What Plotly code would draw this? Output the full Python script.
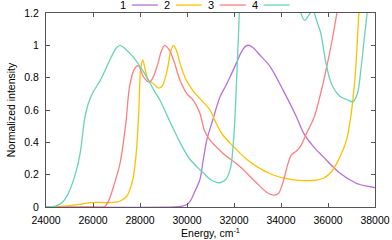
import plotly.graph_objects as go

# ---- data ----
e1 = [24000, 29500, 29800, 30000, 30150, 30300, 30550, 30700, 30850, 31100, 31400, 31650, 31850, 32100, 32300, 32500, 32650, 32850, 33100, 33530, 34100, 34650, 34950, 35400, 35800, 36500, 37200, 37600, 38000]
i1 = [0.0, 0.0, 0.005, 0.015, 0.04, 0.085, 0.17, 0.30, 0.42, 0.54, 0.68, 0.75, 0.81, 0.89, 0.955, 0.995, 1.0, 0.98, 0.94, 0.87, 0.72, 0.56, 0.46, 0.37, 0.31, 0.21, 0.147, 0.13, 0.12]

e2 = [24000, 24500, 25000, 25500, 25900, 26300, 26700, 27000, 27200, 27430, 27600, 27720, 27850, 27950, 28020, 28120, 28220, 28350, 28550, 28800, 28950, 29150, 29300, 29420, 29550, 29700, 29950, 30250, 30550, 30980, 31200, 31500, 31970, 32500, 32970, 33670, 34380, 35090, 35500, 35800, 36100, 36370, 36600, 36800, 36950, 37100, 37200, 37300, 37400]
i2 = [0.0, 0.003, 0.008, 0.018, 0.027, 0.028, 0.027, 0.03, 0.04, 0.065, 0.12, 0.19, 0.35, 0.6, 0.84, 0.91, 0.85, 0.785, 0.765, 0.735, 0.75, 0.84, 0.96, 1.0, 0.97, 0.89, 0.79, 0.72, 0.67, 0.60, 0.53, 0.45, 0.375, 0.30, 0.25, 0.198, 0.171, 0.163, 0.166, 0.178, 0.21, 0.27, 0.34, 0.42, 0.54, 0.72, 0.90, 1.17, 1.4]

e3 = [24000, 26000, 26500, 26700, 26870, 27150, 27400, 27550, 27750, 27930, 28150, 28400, 28550, 28750, 28900, 29050, 29250, 29450, 29700, 30000, 30270, 30550, 30750, 31000, 31550, 32250, 32950, 33400, 33700, 33900, 34100, 34300, 34450, 34650, 34850, 35100, 35400, 35700, 35950, 36200, 36400, 36600]
i3 = [0.0, 0.0, 0.003, 0.05, 0.125, 0.27, 0.52, 0.74, 0.85, 0.875, 0.805, 0.772, 0.80, 0.88, 0.96, 1.0, 0.97, 0.90, 0.785, 0.70, 0.66, 0.58, 0.47, 0.41, 0.33, 0.25, 0.15, 0.09, 0.073, 0.085, 0.16, 0.27, 0.325, 0.345, 0.38, 0.46, 0.55, 0.71, 0.87, 1.05, 1.22, 1.4]

e4 = [24000, 24400, 24700, 24900, 25200, 25450, 25650, 25800, 26000, 26300, 26500, 26750, 27000, 27150, 27400, 27700, 28000, 28300, 28600, 28850, 29300, 29700, 30100, 30550, 30700, 31000, 31400, 31650, 31850, 32000, 32100, 32200, 32300, 32500, 33000, 34000, 34500, 34800, 35000, 35200, 35350, 35500, 35700, 35900, 36100, 36300, 36550, 36800, 37050, 37250, 37400, 37550, 37700, 37900, 38000]
i4 = [0.0, 0.005, 0.03, 0.07, 0.18, 0.33, 0.55, 0.64, 0.71, 0.78, 0.84, 0.92, 0.985, 1.0, 0.975, 0.93, 0.87, 0.80, 0.72, 0.66, 0.52, 0.40, 0.30, 0.23, 0.21, 0.17, 0.15, 0.17, 0.24, 0.45, 0.75, 1.1, 1.45, 1.8, 2.0, 1.8, 1.45, 1.22, 1.155, 1.19, 1.22, 1.16, 1.07, 0.90, 0.78, 0.72, 0.68, 0.665, 0.65, 0.70, 0.85, 1.05, 1.25, 1.6, 1.8]

names = ["1", "2", "3", "4"]
colors = ["#b870d8", "#ffc000", "#ff7f7f", "#66d4b8"]

x_ticks = [24000, 26000, 28000, 30000, 32000, 34000, 36000, 38000]
y_ticks = [0, 0.2, 0.4, 0.6, 0.8, 1.0, 1.2]
y_tick_text = ["0", "0.2", "0.4", "0.6", "0.8", "1", "1.2"]

FONT = "Liberation Sans, Arial, sans-serif"

fig = go.Figure()
for e, i, n, c in zip([e1, e2, e3, e4], [i1, i2, i3, i4], names, colors):
    fig.add_trace(go.Scatter(x=e, y=i, name=n, mode="lines",
                             line=dict(color=c, width=1.3, shape="spline", smoothing=0.8),
                             showlegend=False))

# manual gnuplot-style legend (label, then line sample)
leg_x0 = 0.234
step = 0.1335
for k, (n, c) in enumerate(zip(names, colors)):
    x = leg_x0 + k * step
    fig.add_annotation(x=x, y=1.041, xref="paper", yref="paper", text=n,
                       showarrow=False, xanchor="center", yanchor="middle",
                       font=dict(family=FONT, size=11, color="black"))
    fig.add_shape(type="line", xref="paper", yref="paper",
                  x0=x + 0.027, x1=x + 0.106, y0=1.041, y1=1.041,
                  line=dict(color=c, width=1.3))

axis_common = dict(showline=True, mirror="allticks", linecolor="#555", linewidth=1,
                   ticks="inside", ticklen=4, tickcolor="#555", showgrid=False,
                   zeroline=False, automargin=False,
                   tickfont=dict(family=FONT, size=10.5, color="black"))

fig.update_layout(
    width=392, height=240,
    margin=dict(l=46, r=17, t=13, b=33),
    plot_bgcolor="white", paper_bgcolor="white",
    font=dict(family=FONT, size=10.5, color="black"),
    xaxis=dict(range=[24000, 38000], tickvals=x_ticks,
               ticktext=[str(v) for v in x_ticks], ticklabelstandoff=3,
               title=dict(text="Energy, cm<sup>-1</sup>", standoff=1,
                          font=dict(family=FONT, size=10.5)),
               **axis_common),
    yaxis=dict(range=[0, 1.2], tickvals=y_ticks, ticktext=y_tick_text,
               ticklabelstandoff=4,
               title=dict(text="Normalized intensity", standoff=6,
                          font=dict(family=FONT, size=10.5)),
               **axis_common),
)

fig.write_html("out.html", config={"displayModeBar": False},
               post_script="document.body.style.margin='0';")
